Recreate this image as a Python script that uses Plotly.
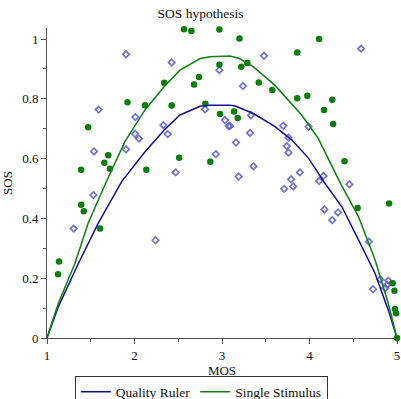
import plotly.graph_objects as go

# Quality Ruler (blue diamonds)
qr_mos = [1.903, 1.59, 2.01, 2.33, 2.006, 2.05, 1.537, 1.903, 2.425, 2.97, 3.48, 3.24, 2.806, 2.38,
          3.034, 3.076, 3.09, 3.33, 3.32, 3.16, 2.93, 2.47, 3.36, 3.19, 4.59, 3.70, 3.99, 3.76, 3.74,
          3.76, 3.89, 3.79, 4.16, 4.11, 4.455, 3.71, 3.815, 4.17, 4.326, 4.26, 4.68, 4.81, 4.90,
          4.886, 4.866, 4.726, 1.53, 1.305, 2.24]
qr_sos = [0.949, 0.764, 0.739, 0.712, 0.683, 0.667, 0.624, 0.631, 0.922, 0.896, 0.944, 0.843, 0.765, 0.682,
          0.729, 0.709, 0.709, 0.745, 0.686, 0.654, 0.615, 0.554, 0.574, 0.540, 0.968, 0.710, 0.707, 0.670, 0.642,
          0.620, 0.554, 0.531, 0.542, 0.525, 0.514, 0.499, 0.507, 0.430, 0.420, 0.394, 0.322, 0.196, 0.192,
          0.178, 0.167, 0.163, 0.478, 0.366, 0.327]

# Single Stimulus (green circles)
ss_mos = [1.92, 2.12, 1.47, 1.70, 1.655, 1.72, 1.39, 2.135, 2.34, 2.566, 2.65, 2.93, 2.97, 3.20, 2.737,
          2.68, 2.97, 3.22, 3.29, 3.42, 3.575, 2.425, 2.81, 2.977, 3.137, 3.18, 2.51, 2.866, 4.11, 3.86,
          3.86, 3.975, 4.26, 4.166, 4.27, 4.40, 4.55, 4.91, 4.95, 4.97, 4.977, 4.99, 5.0, 1.39, 1.42,
          1.606, 1.137, 1.126]
ss_sos = [0.789, 0.779, 0.705, 0.611, 0.586, 0.566, 0.563, 0.563, 0.854, 1.033, 1.027, 1.038, 1.032, 1.002, 0.873,
          0.848, 0.914, 0.907, 0.920, 0.855, 0.830, 0.778, 0.784, 0.749, 0.758, 0.736, 0.603, 0.590, 1.000, 0.955,
          0.802, 0.810, 0.797, 0.763, 0.716, 0.591, 0.435, 0.450, 0.183, 0.158, 0.097, 0.083, 0.0, 0.446, 0.424,
          0.366, 0.256, 0.213]

# Fitted SOS curves
qr_fit_mos = [1.0, 1.13, 1.36, 1.586, 1.853, 2.12, 2.34, 2.52, 2.75, 2.863, 3.09, 3.15, 3.36, 3.606,
              3.80, 3.99, 4.17, 4.37, 4.56, 4.75, 4.90, 5.0]
qr_fit_sos = [0.0, 0.105, 0.25, 0.384, 0.523, 0.623, 0.696, 0.746, 0.775, 0.779, 0.779, 0.776, 0.751, 0.707,
              0.662, 0.601, 0.52, 0.439, 0.328, 0.216, 0.094, 0.0]
ss_fit_mos = [1.0, 1.13, 1.32, 1.47, 1.674, 1.89, 2.12, 2.34, 2.52, 2.75, 2.863, 3.09, 3.2, 3.36, 3.606,
              3.91, 4.10, 4.254, 4.36, 4.56, 4.75, 4.90, 5.0]
ss_fit_sos = [0.0, 0.116, 0.25, 0.384, 0.52, 0.657, 0.763, 0.841, 0.896, 0.935, 0.941, 0.943, 0.935, 0.907, 0.845,
              0.746, 0.668, 0.579, 0.514, 0.406, 0.261, 0.116, 0.0]

x_ticks = [1, 2, 3, 4, 5]
x_labels = ["1", "2", "3", "4", "5"]
y_ticks = [0, 0.2, 0.4, 0.6, 0.8, 1.0]
y_labels = ["0", "0.2", "0.4", "0.6", "0.8", "1"]

BLUE_PT = "#5b5bcf"
GREEN_PT = "#0b7d0b"
BLUE_LN = "#101096"
GREEN_LN = "#108010"
FONT = "'Liberation Serif', 'Times New Roman', 'DejaVu Serif', serif"

fig = go.Figure()
fig.add_trace(go.Scatter(x=qr_mos, y=qr_sos, mode="markers", showlegend=False,
                         marker=dict(symbol="diamond-open", size=5, color=BLUE_PT,
                                     line=dict(width=1.7, color=BLUE_PT), opacity=0.85),
                         cliponaxis=False))
fig.add_trace(go.Scatter(x=ss_mos, y=ss_sos, mode="markers", showlegend=False,
                         marker=dict(symbol="circle", size=6.5, color=GREEN_PT), cliponaxis=False))
fig.add_trace(go.Scatter(x=qr_fit_mos, y=qr_fit_sos, mode="lines", name="Quality Ruler",
                         line=dict(color=BLUE_LN, width=1.5)))
fig.add_trace(go.Scatter(x=ss_fit_mos, y=ss_fit_sos, mode="lines", name="Single Stimulus",
                         line=dict(color=GREEN_LN, width=1.5)))

axis_common = dict(showgrid=False, zeroline=False, showline=True, linecolor="#555555", linewidth=1,
                   ticks="outside", ticklen=5, tickcolor="#555555", automargin=False,
                   tickfont=dict(family=FONT, size=13, color="#111111"))
fig.update_layout(
    width=401, height=399,
    margin=dict(l=47, r=4, t=28, b=61, autoexpand=False),
    paper_bgcolor="white", plot_bgcolor="white",
    font=dict(family=FONT, size=13, color="#111111"),
    title=dict(text="SOS hypothesis", x=0.5, xanchor="center", y=0.978, yanchor="top",
               font=dict(family=FONT, size=13.5, color="#111111")),
    xaxis=dict(range=[1, 5], tickvals=x_ticks, ticktext=x_labels,
               title=dict(text="MOS", font=dict(family=FONT, size=13), standoff=1),
               minor=dict(dtick=0.5, ticks="outside", ticklen=3, tickcolor="#555555"),
               **axis_common),
    yaxis=dict(range=[0, 1.037], tickvals=y_ticks, ticktext=y_labels,
               title=dict(text="SOS", font=dict(family=FONT, size=13), standoff=6),
               minor=dict(dtick=0.1, ticks="outside", ticklen=3, tickcolor="#555555"),
               **axis_common),
    legend=dict(orientation="h", x=0.441, xanchor="center", y=-0.121, yanchor="top",
                bordercolor="#333333", borderwidth=1, bgcolor="white",
                font=dict(family=FONT, size=13.5), itemwidth=30, tracegroupgap=0),
)
fig.write_html("out.html", config={"displayModeBar": False},
               post_script="document.body.style.margin='0';")
